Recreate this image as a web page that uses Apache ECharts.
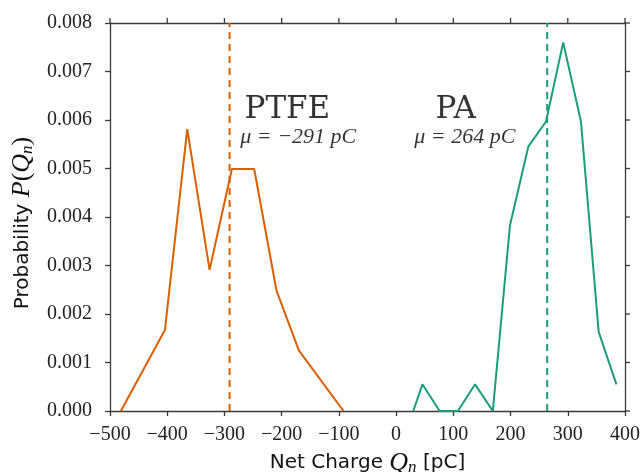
<!DOCTYPE html>
<html>
<head>
<meta charset="utf-8">
<script src="https://cdn.jsdelivr.net/npm/echarts@6/dist/echarts.min.js"></script>
<style>html,body{margin:0;padding:0;background:#fff}#c{width:640px;height:472px}</style>
</head>
<body>
<div id="c"></div>
<script>
// ---- data ----
var ptfeX = [-481, -404, -365, -326, -287, -248, -209, -170, -92];
var ptfeY = [0.0000, 0.00167, 0.00581, 0.00291, 0.00499, 0.00499, 0.00248, 0.00125, 0.0000];
var paX = [30, 46, 76, 108, 138, 169, 199, 231, 262, 292, 323, 354, 385];
var paY = [0.0000, 0.00055, 0.0000, 0.0000, 0.00055, 0.0000, 0.00383, 0.00545, 0.00597, 0.00760, 0.00597, 0.00163, 0.00055];
var ptfeMean = -291;
var paMean = 264;
var xTicks = [-500, -400, -300, -200, -100, 0, 100, 200, 300, 400];
var yTicks = [0.000, 0.001, 0.002, 0.003, 0.004, 0.005, 0.006, 0.007, 0.008];
var labelTexts = ['PTFE', 'PA'];
var meanTexts = ['\u03bc = \u2212291 pC', '\u03bc = 264 pC'];

var orange = '#d95f02', green = '#1b9e77', axisCol = '#3a3a3a';

function pairs(xs, ys) { return xs.map(function (x, i) { return [x, ys[i]]; }); }
function minus(v) { return String(v).replace('-', '\u2212'); }

var chart = echarts.init(document.getElementById('c'));
var serifFont = '"Liberation Serif", "DejaVu Serif", serif';
function axisLine() { return { show: true, onZero: false, lineStyle: { color: axisCol, width: 1.3 } }; }
function axisTick() { return { show: true, inside: false, length: 5, lineStyle: { color: axisCol, width: 1.3 } }; }
var xMin = xTicks[0], xMax = xTicks[xTicks.length - 1];
var yMin = yTicks[0], yMax = yTicks[yTicks.length - 1];
var TICK = 5;

var nameRich = {
  s: { fontFamily: '"DejaVu Sans", sans-serif', fontSize: 20, color: '#111' },
  p: { fontFamily: serifFont, fontSize: 26, color: '#111' },
  i: { fontFamily: serifFont, fontStyle: 'italic', fontSize: 26, color: '#111' },
  sub: { fontFamily: serifFont, fontStyle: 'italic', fontSize: 17, color: '#111', padding: [10, 0, 0, 0] }
};

chart.setOption({
  animation: false,
  backgroundColor: '#fff',
  grid: { left: 110, right: 15, top: 23, bottom: 61, containLabel: false, outerBoundsMode: 'none' },
  xAxis: [
    {
      type: 'value', position: 'bottom', min: xMin, max: xMax, interval: 100,
      axisLine: axisLine(), axisTick: axisTick(), splitLine: { show: false },
      axisLabel: { margin: 14, color: '#222', fontFamily: serifFont, fontSize: 20,
        formatter: function (v) { return minus(v); } },
      name: '{s|Net Charge }{i|Q}{sub|n}{s| [pC]}',
      nameLocation: 'middle', nameGap: 29,
      nameTextStyle: { rich: nameRich }
    },
    {
      type: 'value', position: 'top', min: xMin, max: xMax, interval: 100,
      axisLine: axisLine(), axisTick: { show: false }, splitLine: { show: false },
      axisLabel: { show: false }
    }
  ],
  yAxis: [
    {
      type: 'value', position: 'left', min: yMin, max: yMax, interval: 0.001,
      axisLine: axisLine(), axisTick: axisTick(), splitLine: { show: false },
      axisLabel: { margin: 18, color: '#222', fontFamily: serifFont, fontSize: 20,
        formatter: function (v) { return v.toFixed(3); } },
      name: '{s|Probability }{i|P}{p|(}{i|Q}{sub|n}{p|)}',
      nameLocation: 'middle', nameGap: 70, nameRotate: 90,
      nameTextStyle: { rich: nameRich, padding: [0, 12, 0, 0] }
    },
    {
      type: 'value', position: 'right', min: yMin, max: yMax, interval: 0.001,
      axisLine: axisLine(), axisTick: { show: false }, splitLine: { show: false },
      axisLabel: { show: false }
    }
  ],
  series: [
    { type: 'line', data: pairs(ptfeX, ptfeY), showSymbol: false, symbol: 'none',
      lineStyle: { color: orange, width: 2 }, z: 3 },
    { type: 'line', data: pairs(paX, paY), showSymbol: false, symbol: 'none',
      lineStyle: { color: green, width: 2 }, z: 3 },
    { type: 'line', data: [[ptfeMean, yMin], [ptfeMean, yMax]], symbol: 'none',
      lineStyle: { color: orange, width: 2, type: [7, 5] }, z: 2 },
    { type: 'line', data: [[paMean, yMin], [paMean, yMax]], symbol: 'none',
      lineStyle: { color: green, width: 2, type: [7, 5] }, z: 2 },
    { type: 'scatter', symbolSize: 0, silent: true,
      data: [[-190, 0.00620], [104, 0.00620]],
      label: { show: true, position: 'inside', color: '#000',
        fontFamily: '"DejaVu Serif", serif', fontSize: 31,
        formatter: function (p) { return labelTexts[p.dataIndex]; } } },
    { type: 'scatter', symbolSize: 0, silent: true,
      data: [[-171, 0.00564], [120, 0.00564]],
      label: { show: true, position: 'inside', color: '#000',
        fontFamily: serifFont, fontStyle: 'italic', fontSize: 22,
        formatter: function (p) { return meanTexts[p.dataIndex]; } } }
  ]
});

// outward ticks on the top and right frame edges, placed through the chart's own scales
var tickEls = [];
xTicks.forEach(function (v) {
  var p = chart.convertToPixel({ gridIndex: 0 }, [v, yMax]);
  tickEls.push({ type: 'line', silent: true, z: 100,
    shape: { x1: p[0], y1: p[1], x2: p[0], y2: p[1] - TICK },
    style: { stroke: axisCol, lineWidth: 1.3 } });
});
yTicks.forEach(function (v) {
  var p = chart.convertToPixel({ gridIndex: 0 }, [xMax, v]);
  tickEls.push({ type: 'line', silent: true, z: 100,
    shape: { x1: p[0], y1: p[1], x2: p[0] + TICK, y2: p[1] },
    style: { stroke: axisCol, lineWidth: 1.3 } });
});
chart.setOption({ graphic: { elements: tickEls } });
</script>
</body>
</html>
